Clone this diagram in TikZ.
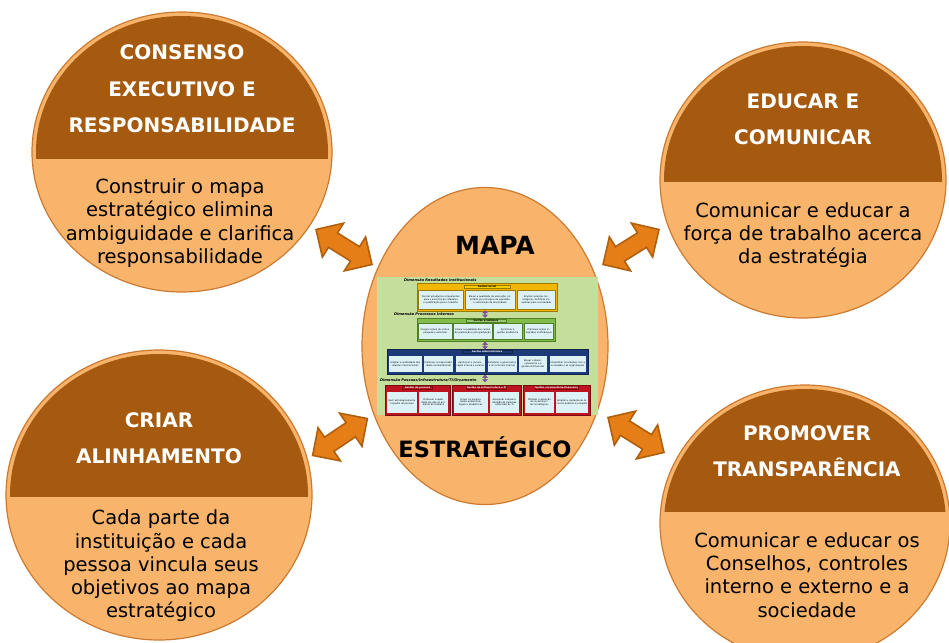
\documentclass[tikz,border=0pt]{standalone}
\usepackage{fontspec}
\setmainfont{DejaVu Sans}
\usetikzlibrary{shapes.geometric,shapes.arrows}
\definecolor{circfill}{HTML}{F9B46B}
\definecolor{circline}{HTML}{CC7A30}
\definecolor{band}{HTML}{A65A0F}
\definecolor{arrfill}{HTML}{E67E18}
\definecolor{arrline}{HTML}{B0600D}
\definecolor{mapgreen}{HTML}{C6DE9C}
\definecolor{gold}{HTML}{F2B705}
\definecolor{goldline}{HTML}{9C7A00}
\definecolor{leafgreen}{HTML}{82BC4C}
\definecolor{leafline}{HTML}{4E7F25}
\definecolor{navy}{HTML}{1C3A78}
\definecolor{crimson}{HTML}{BE1421}
\definecolor{crimsonline}{HTML}{7A0A10}
\definecolor{cyanish}{HTML}{DDF2F6}
\definecolor{violet}{HTML}{8A4BB5}
\newcommand\cbcol{goldline}
\newcommand\cybox[6]{%
  \pgfmathsetmacro\cbh{#5-#3}%
  \pgfmathsetmacro\cbx{(#2+#4)/2}%
  \pgfmathsetmacro\cby{(#3+#5)/2}%
  \pgfmathsetmacro\cbt{#4-#2-1}%
  \node[cyanbox, minimum height=\cbh pt, text width=\cbt pt] (#1) at (\cbx,\cby) {#6};}
\newcommand\blockarrow[3]{%
  \begin{scope}[shift={#2}, rotate=#3]
    \filldraw[blockarr] (-33,0) -- (-13,-20) -- (-13,-8.5) -- (13,-8.5) -- (13,-20) -- (33,0)
      -- (13,20) -- (13,8.5) -- (-13,8.5) -- (-13,20) -- cycle;
    \coordinate (#1) at (0,0);
  \end{scope}}
\tikzset{
  card/.style={ellipse, draw=circline, line width=1.2pt, fill=circfill, inner sep=0pt},
  cardtitle/.style={text=white, font=\bfseries\fontsize{20}{36.5}\selectfont, align=center},
  cardbody/.style={text=black, font=\fontsize{19.5}{23.3}\selectfont, align=center},
  bigword/.style={text=black, font=\bfseries\fontsize{25}{30}\selectfont},
  blockarr/.style={draw=arrline, fill=arrfill, line width=1.6pt, line join=miter},
  tinyarr/.style={double arrow, draw=violet!70!black, fill=violet, line width=0.3pt, minimum height=7pt, minimum width=5pt, double arrow head extend=1.2pt, inner sep=0pt, rotate=90},
  dimtext/.style={anchor=west, inner sep=0pt, font=\bfseries\itshape\fontsize{3.6}{4}\selectfont},
  hdr/.style={draw=#1, line width=0.3pt, inner sep=0.3pt, minimum height=3.5pt, font=\bfseries\fontsize{2.4}{2.8}\selectfont},
  cyanbox/.style={draw=\cbcol, line width=0.5pt, fill=cyanish, inner sep=0.5pt, align=center, font=\fontsize{2.3}{2.7}\selectfont},
  grp/.style={line width=0.7pt}
}
\begin{document}
\begin{tikzpicture}[x=1pt,y=-1pt]
\fill[white] (0,0) rectangle (949,642);
\useasboundingbox (0,0) rectangle (949,642);

% ---------- top-left card
\node[card, minimum width=300pt, minimum height=280pt] (c1) at (182,152) {};
\begin{scope}
  \clip (182,152) ellipse [x radius=146pt, y radius=136pt];
  \fill[band] (0,0) rectangle (400,159);
\end{scope}
\node[cardtitle] (t1) at (182,89) {CONSENSO\\EXECUTIVO E\\RESPONSABILIDADE};
\node[cardbody] (b1) at (180,223) {Construir o mapa\\estratégico elimina\\ambiguidade e clarifica\\responsabilidade};

% ---------- top-right card
\node[card, minimum width=286pt, minimum height=276pt] (c2) at (803,180) {};
\begin{scope}
  \clip (803,180) ellipse [x radius=139pt, y radius=134pt];
  \fill[band] (600,0) rectangle (949,182);
\end{scope}
\node[cardtitle] (t2) at (803,119) {EDUCAR E\\COMUNICAR};
\node[cardbody] (b2) at (803,235) {Comunicar e educar a\\força de trabalho acerca\\da estratégia};

% ---------- bottom-left card
\node[card, minimum width=306pt, minimum height=290pt] (c3) at (159,495) {};
\begin{scope}
  \clip (159,495) ellipse [x radius=149pt, y radius=141pt];
  \fill[band] (0,300) rectangle (400,497);
\end{scope}
\node[cardtitle] (t3) at (159,438) {CRIAR\\ALINHAMENTO};
\node[cardbody] (b3) at (161,566) {Cada parte da\\instituição e cada\\pessoa vincula seus\\objetivos ao mapa\\estratégico};

% ---------- bottom-right card
\node[card, minimum width=290pt, minimum height=276pt] (c4) at (805,523) {};
\begin{scope}
  \clip (805,523) ellipse [x radius=141pt, y radius=134pt];
  \fill[band] (600,300) rectangle (949,512);
\end{scope}
\node[cardtitle] (t4) at (807,451) {PROMOVER\\TRANSPARÊNCIA};
\node[cardbody] (b4) at (807,575) {Comunicar e educar os\\Conselhos, controles\\interno e externo e a\\sociedade};

% ---------- central ellipse
\node[card, minimum width=246pt, minimum height=317pt] (m) at (485,346) {};
\node[bigword] (w1) at (495,245) {MAPA};
\node[bigword, font=\bfseries\fontsize{22.5}{27}\selectfont] (w2) at (485,447) {ESTRATÉGICO};

% ---------- miniature strategic map
\fill[mapgreen] (377,277) rectangle (598,415);
\node[dimtext] (d1) at (404,280.5) {Dimensão Resultados Institucionais};
\filldraw[grp, fill=gold, draw=goldline] (417,283) rectangle (557,311);
\node[hdr=goldline, fill=gold!70!yellow, minimum width=46pt] (h1) at (487,286.5) {Gestão social};
\renewcommand\cbcol{goldline}
\cybox{s1}{418.5}{290}{463}{309.5}{Formar estudantes competentes para o exercício da cidadania e qualificação para o trabalho}
\cybox{s2}{465}{290}{515}{309.5}{Elevar a qualidade da educação, orientado por princípios de equidade e valorização da diversidade}
\cybox{s3}{517}{290}{555.5}{309.5}{Ampliar soluções tecnológicas científicas inovadoras para a sociedade}
\node[tinyarr] (p1) at (485,314) {};

\node[dimtext] (d2) at (394,314.5) {Dimensão Processos Internos};
\filldraw[grp, fill=leafgreen, draw=leafline] (417,318) rectangle (555,341);
\node[hdr=leafline, fill=leafgreen!80!white, minimum width=40pt] (h2) at (486,320.5) {Gestão acadêmica};
\renewcommand\cbcol{leafline}
\cybox{g1}{418.5}{323.5}{452}{339.5}{Integrar ações de ensino, pesquisa e extensão}
\cybox{g2}{453.5}{323.5}{492}{339.5}{Elevar a qualidade dos cursos de graduação e pós-graduação}
\cybox{g3}{493.5}{323.5}{522}{339.5}{Aprimorar a gestão acadêmica}
\cybox{g4}{524}{323.5}{553.5}{339.5}{Promover ações integradas multicâmpus}
\node[tinyarr] (p2) at (485,345.5) {};

\filldraw[grp, fill=navy, draw=navy!60!black] (387,349) rectangle (588,374);
\node[hdr=navy!60!black, fill=navy, text=white, minimum width=50pt] (h3) at (487,351.8) {Gestão Administrativa};
\renewcommand\cbcol{navy}
\cybox{a1}{388.5}{355.5}{422}{372.5}{Ampliar a visibilidade das relações internacionais}
\cybox{a2}{423.5}{355.5}{453.5}{372.5}{Promover a responsabilidade socioambiental}
\cybox{a3}{455}{355.5}{485.5}{372.5}{Aprimorar a comunicação interna e externa}
\cybox{a4}{487}{355.5}{517}{372.5}{Fortalecer a governança e os controles internos}
\cybox{a5}{518.5}{355.5}{547.5}{372.5}{Elevar o desenvolvimento e a gestão institucional}
\cybox{a6}{549}{355.5}{586.5}{372.5}{Intensificar as relações com a sociedade e as organizações}

\node[dimtext] (d3) at (380,380) {Dimensão Pessoas/Infraestrutura/TI/Orçamento};
\node[tinyarr] (p3) at (485,378.5) {};

\renewcommand\cbcol{crimson}
\filldraw[grp, fill=crimson, draw=crimsonline] (385,385) rectangle (450,415);
\node[hdr=crimsonline, fill=crimson, text=white, minimum width=30pt] (h4) at (417.5,387.6) {Gestão de pessoas};
\cybox{r1}{386.5}{391}{417}{413.5}{Gerir estrategicamente o quadro de pessoal}
\cybox{r2}{418.5}{391}{448.5}{413.5}{Promover a qualidade de vida no ambiente de trabalho}
\filldraw[grp, fill=crimson, draw=crimsonline] (452,385) rectangle (521,415);
\node[hdr=crimsonline, fill=crimson, text=white, minimum width=40pt] (h5) at (486.5,387.6) {Gestão de Infraestrutura e TI};
\cybox{r3}{453.5}{391}{488}{413.5}{Prover as necessidades ambientais, legais e acadêmicas}
\cybox{r4}{489.5}{391}{519.5}{413.5}{Assegurar a disponibilidade de sistemas essenciais de TI}
\filldraw[grp, fill=crimson, draw=crimsonline] (523,385) rectangle (590,415);
\node[hdr=crimsonline, fill=crimson, text=white, minimum width=42pt] (h6) at (556.5,387.6) {Gestão orçamentária-financeira};
\cybox{r5}{524.5}{391}{554}{413.5}{Otimizar a alocação de investimentos estratégicos}
\cybox{r6}{555.5}{391}{588.5}{413.5}{Ampliar a captação de recursos públicos e privados}

% ---------- double block arrows between cards and the centre
\blockarrow{x1}{(344,247)}{-32}
\blockarrow{x2}{(631,247)}{32}
\blockarrow{x3}{(340,437)}{34}
\blockarrow{x4}{(636,435)}{-32}
\end{tikzpicture}
\end{document}
